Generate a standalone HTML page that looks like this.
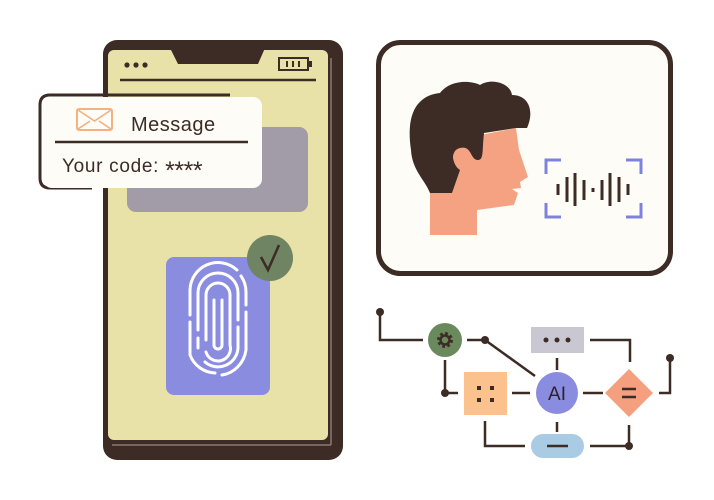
<!DOCTYPE html>
<html><head><meta charset="utf-8"><style>
html,body{margin:0;padding:0;background:#fff;}
svg{display:block}
text{font-family:"Liberation Sans",sans-serif;}
</style></head><body>
<svg width="714" height="500" viewBox="0 0 714 500" xmlns="http://www.w3.org/2000/svg">
<!-- phone -->
<rect x="103" y="40" width="240" height="420" rx="14" fill="#3d2b25"/>
<rect x="108" y="50" width="220" height="390" rx="6" fill="#e8e2a8"/>
<line x1="331" y1="58" x2="331" y2="445" stroke="#8a7a74" stroke-width="1.5"/>
<line x1="112" y1="445" x2="331" y2="445" stroke="#8a7a74" stroke-width="1.5"/>
<path d="M170,48 L265,48 L258,64 L178,64 Z" fill="#3d2b25"/>
<circle cx="127" cy="65" r="2.6" fill="#3d2b25"/><circle cx="136" cy="65" r="2.6" fill="#3d2b25"/><circle cx="145" cy="65" r="2.6" fill="#3d2b25"/>
<rect x="279" y="58" width="29" height="12" fill="none" stroke="#3d2b25" stroke-width="2"/>
<rect x="308" y="61" width="4" height="6" fill="#3d2b25"/>
<line x1="287" y1="61" x2="287" y2="67" stroke="#3d2b25" stroke-width="2"/>
<line x1="293" y1="61" x2="293" y2="67" stroke="#3d2b25" stroke-width="2"/>
<line x1="299" y1="61" x2="299" y2="67" stroke="#3d2b25" stroke-width="2"/>
<line x1="120" y1="80" x2="316" y2="80" stroke="#3d2b25" stroke-width="2.5"/>
<rect x="127" y="127" width="181" height="85" rx="9" fill="#a29ca8"/>
<!-- message card -->
<path d="M92,188 L50,188 Q40,188 40,178 L40,105 Q40,95 50,95 L230,95" fill="none" stroke="#3d2b25" stroke-width="3"/>
<rect x="43" y="97" width="219" height="91" rx="9" fill="#fdfcf7"/>
<rect x="77" y="109" width="35" height="21" rx="2" fill="none" stroke="#f3b27e" stroke-width="2"/>
<path d="M78,110 L94.5,121 L111,110 M78,129 L90,121 M111,129 L99,121" fill="none" stroke="#f3b27e" stroke-width="1.6"/>
<text x="131" y="131" font-size="20" fill="#3d2b25" letter-spacing="0.5">Message</text>
<line x1="55" y1="142" x2="248" y2="142" stroke="#3d2b25" stroke-width="2.5"/>
<text x="62" y="172" font-size="19" fill="#3d2b25" letter-spacing="0.7">Your code: <tspan font-size="25" dy="7" letter-spacing="-0.5">****</tspan></text>
<!-- fingerprint -->
<rect x="166" y="257" width="104" height="138" rx="8" fill="#8a8ce0"/>
<g fill="none" stroke="#fff" stroke-width="3" stroke-linecap="round">
<path d="M190,315 L190,290 A28,28 0 0 1 237,270"/>
<path d="M241,276 A28,28 0 0 1 246,292 L246,305"/>
<path d="M190,322 L190,355 A28,28 0 0 0 215,373"/>
<path d="M246,312 L246,350 A28,30 0 0 1 222,375"/>
<path d="M198,330 L198,293 A20,20 0 0 1 238,293 L238,320"/>
<path d="M238,327 L238,348 A20,20 0 0 1 205,362"/>
<path d="M206,340 L206,295 A12,12 0 0 1 230,295 L230,345 A12,12 0 0 1 206,352"/>
<path d="M214,300 L214,345 A4,4 0 0 0 222,345 L222,300"/>
<path d="M198,338 L198,348"/>
</g>
<circle cx="270" cy="258" r="23" fill="#6e8463"/>
<path d="M261,257 L268,270 L279,245" fill="none" stroke="#3d2b25" stroke-width="2.5"/>
<!-- right card -->
<rect x="378.5" y="42.5" width="292" height="231" rx="22" fill="#fdfcf7" stroke="#3d2b25" stroke-width="5"/>
<path d="M455,140 L516,128 L519,150 L528,177 L520,182 L521,188 L512,189 L518,193 L514,205 L477,210 L477,235 L430,235 L430,193 Z" fill="#f5a283"/>
<path d="M411,150 C405,110 420,95 440,93 C450,80 470,80 480,85 C490,78 510,82 512,95 C528,95 535,110 527,128 L516,128 L484,133 C482,150 484,160 478,160 C470,160 472,145 460,148 C450,150 452,165 460,170 L452,193 L430,193 C425,180 412,170 411,150 Z" fill="#3d2b25"/>
<circle cx="461" cy="157" r="8" fill="#f5a283"/>
<g fill="none" stroke="#7e82dc" stroke-width="3">
<path d="M561,160 L546,160 L546,174"/><path d="M626,160 L641,160 L641,174"/>
<path d="M561,217 L546,217 L546,203"/><path d="M626,217 L641,217 L641,203"/>
</g>
<g stroke="#3d2b25" stroke-width="3">
<line x1="558" y1="184" x2="558" y2="195"/><line x1="567" y1="177" x2="567" y2="202"/>
<line x1="575" y1="173" x2="575" y2="206"/><line x1="584" y1="180" x2="584" y2="200"/>
<line x1="593" y1="188" x2="593" y2="192"/><line x1="602" y1="180" x2="602" y2="200"/>
<line x1="610" y1="173" x2="610" y2="206"/><line x1="619" y1="177" x2="619" y2="202"/>
<line x1="628" y1="184" x2="628" y2="195"/>
</g>
<!-- flowchart -->
<g fill="none" stroke="#3d2b25" stroke-width="2.5">
<path d="M380,312 L380,340 L423,340"/>
<path d="M467,340 L485,340 L535,376"/>
<path d="M445,360 L445,393 L458,393"/>
<path d="M512,393 L530,393"/>
<path d="M583,393 L603,393"/>
<path d="M557,358 L557,370"/>
<path d="M590,340 L630,340 L630,362"/>
<path d="M659,393 L670,393 L670,358"/>
<path d="M557,422 L557,432"/>
<path d="M485,421 L485,446 L525,446"/>
<path d="M590,446 L629,446 L629,425"/>
</g>
<g fill="#3d2b25">
<circle cx="380" cy="312" r="4"/><circle cx="485" cy="340" r="4"/><circle cx="445" cy="393" r="4"/>
<circle cx="670" cy="358" r="4"/><circle cx="629" cy="446" r="4"/>
</g>
<circle cx="445" cy="340" r="17" fill="#6a8a5e"/>
<circle cx="445" cy="340" r="6" fill="none" stroke="#3d2b25" stroke-width="4" stroke-dasharray="2.5 2.2"/>
<circle cx="445" cy="340" r="4.5" fill="none" stroke="#3d2b25" stroke-width="2.5"/>
<rect x="464" y="372" width="43" height="43" fill="#fbc28e"/>
<g fill="#3d2b25"><rect x="477" y="386" width="4" height="4"/><rect x="490" y="386" width="4" height="4"/><rect x="477" y="398" width="4" height="4"/><rect x="490" y="398" width="4" height="4"/></g>
<rect x="531" y="327" width="53" height="26" fill="#c9c8d2"/>
<circle cx="546" cy="340" r="2.5" fill="#3d2b25"/><circle cx="557" cy="340" r="2.5" fill="#3d2b25"/><circle cx="568" cy="340" r="2.5" fill="#3d2b25"/>
<circle cx="557" cy="393" r="21" fill="#8a8ce0"/>
<text x="557" y="400" font-size="19" fill="#2a2030" text-anchor="middle">AI</text>
<path d="M629,369 L653,393 L629,417 L605,393 Z" fill="#f4a07e"/>
<line x1="622" y1="389" x2="636" y2="389" stroke="#3d2b25" stroke-width="2.5"/>
<line x1="622" y1="397" x2="636" y2="397" stroke="#3d2b25" stroke-width="2.5"/>
<rect x="531" y="434" width="53" height="24" rx="12" fill="#a9cbe3"/>
<line x1="547" y1="446" x2="568" y2="446" stroke="#3d2b25" stroke-width="2.5"/>
</svg>
</body></html>
